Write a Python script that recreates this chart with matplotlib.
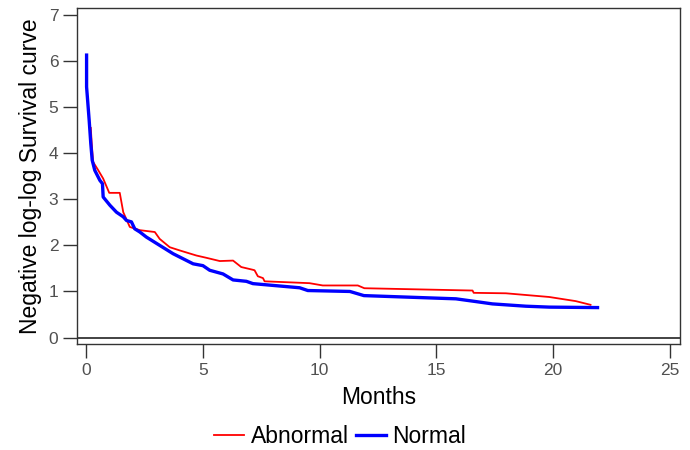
import matplotlib
matplotlib.use("Agg")
import matplotlib.pyplot as plt
from matplotlib.lines import Line2D

plt.rcParams['font.family'] = ['Liberation Sans', 'DejaVu Sans']

# values
abnormal_months = [0.21, 0.25, 0.31, 0.53, 0.74, 1.0, 1.45, 1.6, 1.88, 2.31, 2.95, 3.16,
                   3.59, 4.02, 4.73, 5.16, 5.73, 6.3, 6.65, 7.15, 7.22, 7.36, 7.58, 7.65,
                   9.57, 10.14, 11.64, 11.92, 16.55, 16.6, 17.98, 19.83, 20.97, 21.6]
abnormal_loglog = [4.55, 4.21, 3.81, 3.63, 3.45, 3.14, 3.14, 2.72, 2.40, 2.33, 2.29, 2.14,
                   1.96, 1.89, 1.78, 1.73, 1.66, 1.67, 1.53, 1.47, 1.46, 1.33, 1.29, 1.22,
                   1.18, 1.13, 1.13, 1.07, 1.02, 0.97, 0.96, 0.88, 0.79, 0.71]

normal_months = [0.03, 0.03, 0.14, 0.21, 0.27, 0.38, 0.6, 0.71, 0.74, 1.03, 1.31, 1.6,
                 1.74, 1.95, 2.09, 2.31, 2.59, 3.16, 3.73, 4.59, 5.01, 5.3, 5.87, 6.3,
                 6.87, 7.15, 9.15, 9.5, 11.3, 11.9, 15.84, 16.7, 17.4, 18.83, 19.83, 21.9]
normal_loglog = [6.13, 5.44, 4.72, 4.21, 3.85, 3.63, 3.41, 3.34, 3.05, 2.87, 2.72, 2.62,
                 2.54, 2.51, 2.36, 2.29, 2.18, 2.00, 1.82, 1.60, 1.56, 1.46, 1.38, 1.25,
                 1.22, 1.17, 1.08, 1.02, 1.00, 0.91, 0.84, 0.78, 0.73, 0.68, 0.66, 0.65]

x_ticks = [0, 5, 10, 15, 20, 25]
y_ticks = [0, 1, 2, 3, 4, 5, 6, 7]

fig = plt.figure(figsize=(6.9, 4.5), dpi=100)
ax = fig.add_axes([0.1116, 0.2356, 0.8739, 0.7464])

ax.plot(abnormal_months, abnormal_loglog, color='#ff0000', lw=1.3, zorder=3)
ax.plot(normal_months, normal_loglog, color='#0000ff', lw=2.4, zorder=4)
ax.axhline(0, color='#222222', lw=1.2, zorder=2)

ax.set_xlim(-0.38, 25.43)
ax.set_ylim(-0.14, 7.15)
ax.set_xticks(x_ticks)
ax.set_yticks(y_ticks)
ax.tick_params(direction='out', length=10, width=1, color='#333333',
               labelcolor='#505050', labelsize=12.5)
for s in ax.spines.values():
    s.set_color('#333333')
    s.set_linewidth(1)

ax.set_xlabel('Months', fontsize=16.5, labelpad=6)
ax.set_ylabel('Negative log-log Survival curve', fontsize=16.5, labelpad=5)

handles = [Line2D([], [], color='#ff0000', lw=1.3),
           Line2D([], [], color='#0000ff', lw=2.4)]
fig.legend(handles, ['Abnormal', 'Normal'], loc='center', bbox_to_anchor=(0.493, 0.031),
           ncol=2, frameon=False, fontsize=16.5, handlelength=1.3, handletextpad=0.3,
           columnspacing=0.3)

fig.savefig('out.png', dpi=100)
